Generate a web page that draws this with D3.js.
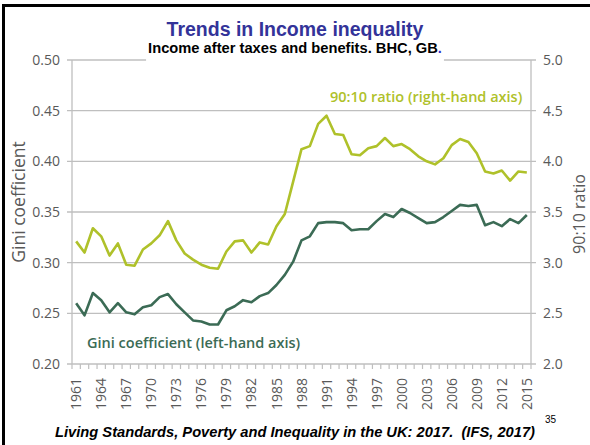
<!DOCTYPE html>
<html><head><meta charset="utf-8">
<script src="https://cdn.jsdelivr.net/npm/d3@7"></script>
<style>
html,body{margin:0;padding:0;background:#fff;}
svg{display:block;}
text{font-family:"Open Sans",sans-serif;}
</style></head>
<body>
<svg id="c" width="590" height="445"></svg>
<script>
const years = [1961,1962,1963,1964,1965,1966,1967,1968,1969,1970,1971,1972,1973,1974,1975,1976,1977,1978,1979,1980,1981,1982,1983,1984,1985,1986,1987,1988,1989,1990,1991,1992,1993,1994,1995,1996,1997,1998,1999,2000,2001,2002,2003,2004,2005,2006,2007,2008,2009,2010,2011,2012,2013,2014,2015];
const gini = [0.260,0.248,0.270,0.263,0.251,0.260,0.251,0.249,0.256,0.258,0.266,0.269,0.259,0.251,0.243,0.242,0.239,0.239,0.253,0.257,0.263,0.261,0.267,0.270,0.278,0.288,0.301,0.322,0.326,0.339,0.340,0.340,0.339,0.332,0.333,0.333,0.341,0.348,0.345,0.353,0.349,0.344,0.339,0.340,0.345,0.351,0.357,0.356,0.357,0.337,0.340,0.336,0.343,0.339,0.347];
const ratio = [3.21,3.10,3.34,3.26,3.07,3.19,2.98,2.97,3.13,3.19,3.27,3.41,3.22,3.09,3.03,2.98,2.95,2.94,3.11,3.21,3.22,3.10,3.20,3.18,3.36,3.48,3.80,4.12,4.15,4.37,4.45,4.27,4.26,4.07,4.06,4.13,4.15,4.23,4.15,4.17,4.12,4.05,4.00,3.97,4.03,4.16,4.22,4.19,4.08,3.90,3.88,3.91,3.81,3.90,3.89];
const leftTicks = [0.20,0.25,0.30,0.35,0.40,0.45,0.50];
const rightTicks = [2.0,2.5,3.0,3.5,4.0,4.5,5.0];
const yearLabels = [1961,1964,1967,1970,1973,1976,1979,1982,1985,1988,1991,1994,1997,2000,2003,2006,2009,2012,2015];

const svg = d3.select("#c");
const L = 72, R = 531, T = 60, B = 364;
const x = d3.scaleBand().domain(years).range([L, R]);
const yL = d3.scaleLinear().domain([0.2, 0.5]).range([B, T]);
const yR = d3.scaleLinear().domain([2, 5]).range([B, T]);
const cx = d => x(d) + x.bandwidth() / 2;

const lime = "#afc12a", dark = "#3b6b55", grid = "#bfbfbf", tickCol = "#595959";

// frame
svg.append("path").attr("d", "M3.5,445V5.5H590").attr("fill", "none").attr("stroke", "#000").attr("stroke-width", 3);

// gridlines
svg.append("g").selectAll("line").data(leftTicks).join("line")
  .attr("x1", L - 5).attr("x2", R + 5)
  .attr("y1", d => yL(d)).attr("y2", d => yL(d))
  .attr("stroke", grid).attr("stroke-width", 1.3);

// vertical axis lines
svg.append("line").attr("x1", L).attr("x2", L).attr("y1", T).attr("y2", B).attr("stroke", grid).attr("stroke-width", 1.3);
svg.append("line").attr("x1", R).attr("x2", R).attr("y1", T).attr("y2", B).attr("stroke", grid).attr("stroke-width", 1.3);

// x ticks at band boundaries
svg.append("g").selectAll("line").data(years.concat([null])).join("line")
  .attr("x1", (d, i) => i < years.length ? x(d) : R)
  .attr("x2", (d, i) => i < years.length ? x(d) : R)
  .attr("y1", B).attr("y2", B + 5)
  .attr("stroke", grid).attr("stroke-width", 1.2);

// left tick labels
svg.append("g").selectAll("text").data(leftTicks).join("text")
  .attr("x", 60).attr("y", d => yL(d)).attr("dy", "0.36em")
  .attr("text-anchor", "end").attr("font-size", 14).attr("fill", tickCol)
  .text(d => d3.format(".2f")(d));

// right tick labels
svg.append("g").selectAll("text").data(rightTicks).join("text")
  .attr("x", 543).attr("y", d => yR(d)).attr("dy", "0.36em")
  .attr("text-anchor", "start").attr("font-size", 14).attr("fill", tickCol)
  .text(d => d3.format(".1f")(d));

// x labels
svg.append("g").selectAll("text").data(yearLabels).join("text")
  .attr("transform", d => `translate(${cx(d)},378) rotate(-90)`)
  .attr("dy", "0.36em").attr("text-anchor", "end")
  .attr("font-size", 14).attr("fill", tickCol)
  .text(d => d);

// lines
const lineG = d3.line().x((d, i) => cx(years[i])).y(d => yL(d));
const lineR = d3.line().x((d, i) => cx(years[i])).y(d => yR(d));
svg.append("path").datum(ratio).attr("d", lineR).attr("fill", "none").attr("stroke", lime).attr("stroke-width", 2.6).attr("stroke-linejoin", "round");
svg.append("path").datum(gini).attr("d", lineG).attr("fill", "none").attr("stroke", dark).attr("stroke-width", 2.6).attr("stroke-linejoin", "round");

// series labels
svg.append("text").attr("x", 330).attr("y", 102).attr("font-size", 14.5).attr("font-weight", 600).attr("fill", lime)
  .text("90:10 ratio (right-hand axis)");
svg.append("text").attr("x", 87).attr("y", 348).attr("font-size", 14.5).attr("font-weight", 600).attr("fill", dark)
  .text("Gini coefficient (left-hand axis)");

// axis titles
svg.append("text").attr("transform", "translate(25,202) rotate(-90)").attr("text-anchor", "middle")
  .attr("font-size", 17.5).attr("fill", tickCol).text("Gini coefficient");
svg.append("text").attr("transform", "translate(585,214) rotate(-90)").attr("text-anchor", "middle")
  .attr("font-size", 16).attr("fill", tickCol).text("90:10 ratio");

// title
svg.append("text").attr("x", 295).attr("y", 36).attr("text-anchor", "middle")
  .style("font-family", "'Liberation Sans', Arial, sans-serif").attr("font-weight", "bold")
  .attr("font-size", 19.5).attr("fill", "#333399").text("Trends in Income inequality");
const subBg = svg.append("rect").attr("fill", "#fff");
const sub = svg.append("text").attr("x", 295).attr("y", 53).attr("text-anchor", "middle")
  .style("font-family", "'Liberation Sans', Arial, sans-serif").attr("font-weight", "bold")
  .attr("font-size", 14.7).attr("fill", "#000");
sub.append("tspan").text("Income after taxes and benefits. BHC, GB");
sub.append("tspan").attr("fill", "#3333cc").text(".");
const bb = sub.node().getBBox();
subBg.attr("x", bb.x - 2).attr("y", 44).attr("width", bb.width + 4).attr("height", 18);

// footer
svg.append("text").attr("x", 295).attr("y", 437).attr("text-anchor", "middle")
  .style("font-family", "'Liberation Sans', Arial, sans-serif").style("white-space", "pre")
  .attr("font-weight", "bold").attr("font-style", "italic").attr("font-size", 14.7).attr("fill", "#000")
  .text("Living Standards, Poverty and Inequality in the UK: 2017.  (IFS, 2017)");
svg.append("text").attr("x", 545).attr("y", 423)
  .style("font-family", "'Liberation Sans', Arial, sans-serif")
  .attr("font-size", 10).attr("fill", "#000").text("35");
</script>
</body></html>
